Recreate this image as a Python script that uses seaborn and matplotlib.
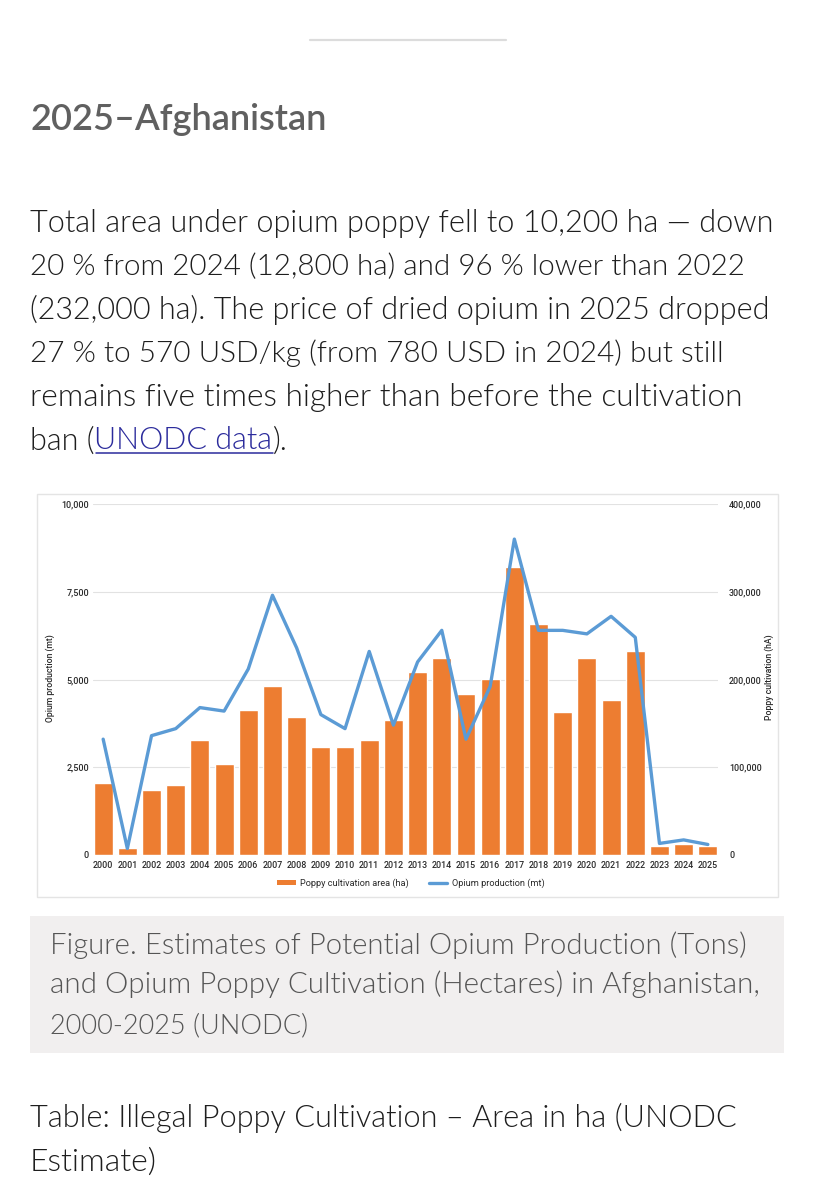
import numpy as np
import pandas as pd
import matplotlib
matplotlib.use("Agg")
import matplotlib.pyplot as plt
import seaborn as sns
from matplotlib.patches import Rectangle, Patch
from matplotlib.lines import Line2D
from matplotlib.ticker import FuncFormatter

# ---------------- data ----------------
years = [str(y) for y in range(2000, 2026)]
cultivation_ha = [82000, 7600, 74000, 80000, 131000, 104000, 165000, 193000,
                  157000, 123000, 123000, 131000, 154000, 209000, 224000,
                  183000, 201000, 328000, 263000, 163000, 224000, 177000,
                  233000, 10800, 12800, 10200]
production_mt = [3300, 185, 3400, 3600, 4200, 4100, 5300, 7400, 5900, 4000,
                 3600, 5800, 3700, 5500, 6400, 3300, 4800, 9000, 6400, 6400,
                 6300, 6800, 6200, 330, 430, 300]
left_ticks = [0, 2500, 5000, 7500, 10000]
right_ticks = [0, 100000, 200000, 300000, 400000]

heading = "2025–Afghanistan"
body_lines = [
    "Total area under opium poppy fell to 10,200 ha — down",
    "20 % from 2024 (12,800 ha) and 96 % lower than 2022",
    "(232,000 ha). The price of dried opium in 2025 dropped",
    "27 % to 570 USD/kg (from 780 USD in 2024) but still",
    "remains five times higher than before the cultivation",
]
last_parts = [("ban (", "#1e1e1e"), ("UNODC data", "#2b2b9c"), (").", "#1e1e1e")]
caption_lines = [
    "Figure. Estimates of Potential Opium Production (Tons)",
    "and Opium Poppy Cultivation (Hectares) in Afghanistan,",
    "2000-2025 (UNODC)",
]
table_lines = ["Table: Illegal Poppy Cultivation – Area in ha (UNODC", "Estimate)"]

ORANGE = "#ed7d31"
BLUE = "#5b9bd5"
TXT = "#1e1e1e"
TICK = "#2a2a2a"
BODY_W = 300

# ---------------- figure ----------------
sns.set_theme(style="white")
plt.rcParams["font.family"] = ["Lato", "DejaVu Sans"]

W, H = 814, 1200
def fx(x): return x / W
def fy(y): return 1 - y / H

fig = plt.figure(figsize=(W / 100, H / 100), dpi=100, facecolor="white")
renderer = fig.canvas.get_renderer()

def fit_text(x, y, s, target_w, **kw):
    t = fig.text(fx(x), fy(y), s, fontsize=20, ha="left", va="baseline", **kw)
    w = t.get_window_extent(renderer).width
    t.set_fontsize(20 * target_w / w)
    return t

# separator line
fig.add_artist(Line2D([fx(310), fx(506)], [fy(40), fy(40)], color="#dcdcdc", lw=1.6))

# heading
fit_text(30, 130, heading, 296, color="#606060", fontweight=600)

# body
body_widths = [745, 715, 741, 692, 713]
for i, (s, w) in enumerate(zip(body_lines, body_widths)):
    fit_text(30, 232 + 43.5 * i, s, w, color=TXT, fontweight=BODY_W)

# last body line with link
full = "".join(p for p, _ in last_parts)
t = fig.text(0, 0, full, fontsize=20, fontweight=BODY_W)
fw = t.get_window_extent(renderer).width
t.remove()
fs = 20 * 258 / fw
xcur = 30
yb = 232 + 43.5 * 5
for s, c in last_parts:
    tt = fig.text(fx(xcur), fy(yb), s, fontsize=fs, color=c, ha="left",
                  va="baseline", fontweight=BODY_W)
    wpx = tt.get_window_extent(renderer).width
    if s == "UNODC data":
        fig.add_artist(Line2D([fx(xcur + 1), fx(xcur + wpx)], [fy(yb + 3), fy(yb + 3)],
                              color=c, lw=1.1))
    xcur += wpx

# chart frame
fig.add_artist(Rectangle((fx(37), fy(897)), (778 - 37) / W, (897 - 494) / H,
                         transform=fig.transFigure, facecolor="white",
                         edgecolor="#e4e4e4", lw=1.0, zorder=0))

# axes: bars on primary (right scale), line on twin (left scale)
ax = fig.add_axes([fx(93), fy(855), (718 - 93) / W, (855 - 504) / H])
ax.set_facecolor("none")
df = pd.DataFrame({"year": years, "area": cultivation_ha, "prod": production_mt})
sns.barplot(data=df, x="year", y="area", color=ORANGE, saturation=1,
            width=0.78, ax=ax, zorder=2)
ax.set_ylim(0, 400000)
ax.set_yticks(right_ticks)
ax.yaxis.set_major_formatter(FuncFormatter(lambda v, p: f"{v:,.0f}"))
ax.set_axisbelow(True)
ax.grid(axis="y", color="#e2e2e2", lw=0.8, zorder=0)
ax.grid(axis="x", visible=False)
ax.set_xlabel("")
ax.set_ylabel("")

ax2 = ax.twinx()
sns.lineplot(x=np.arange(len(years)), y=df["prod"].values, color=BLUE,
             lw=2.4, ax=ax2)
ax2.set_ylim(0, 10000)
ax2.set_yticks(left_ticks)
ax2.yaxis.set_major_formatter(FuncFormatter(lambda v, p: f"{v:,.0f}"))
ax2.set_ylabel("")
ax2.grid(False)
ax.set_xlim(-0.42, 25.42)
# swap sides: cultivation scale on the right, production on the left
ax.yaxis.tick_right()
ax2.yaxis.tick_left()

for a in (ax, ax2):
    for sp in a.spines.values():
        sp.set_visible(False)

ax.tick_params(axis="x", length=0, pad=4, labelsize=6.4, labelcolor=TICK)
ax.tick_params(axis="y", length=0, pad=8, labelsize=6.4, labelcolor=TICK)
ax2.tick_params(axis="y", length=0, pad=3, labelsize=6.5, labelcolor=TICK)
for lab in ax.get_xticklabels() + ax.get_yticklabels() + ax2.get_yticklabels():
    lab.set_fontfamily(["Roboto", "DejaVu Sans"])
    lab.set_fontweight("medium")

# axis titles
fig.text(fx(50), fy(678), "Opium production (mt)", rotation=90, ha="center",
         va="center", fontsize=6.2, color=TICK,
         family=["Roboto", "DejaVu Sans"], fontweight="medium")
fig.text(fx(769), fy(677), "Poppy cultivation (hA)", rotation=90, ha="center",
         va="center", fontsize=6.2, color=TICK,
         family=["Roboto", "DejaVu Sans"], fontweight="medium")

# legend
handles = [Patch(facecolor=ORANGE, edgecolor="none"),
           Line2D([0], [0], color=BLUE, lw=2.4)]
fig.legend(handles, ["Poppy cultivation area (ha)", "Opium production (mt)"],
           loc="center", bbox_to_anchor=(fx(411), fy(883)), ncol=2,
           frameon=False, prop=dict(family=["Roboto", "DejaVu Sans"], size=6.6),
           labelcolor=TICK, handlelength=2.0, handleheight=0.45,
           handletextpad=0.5, columnspacing=2.2)

# caption box
fig.add_artist(Rectangle((fx(30), fy(1053)), (784 - 30) / W, (1053 - 916) / H,
                         transform=fig.transFigure, facecolor="#f1efef",
                         edgecolor="none", zorder=0))
cap_widths = [697, 709, 258]
for i, (s, w) in enumerate(zip(caption_lines, cap_widths)):
    fit_text(50, 954 + 39.5 * i, s, w, color="#555555", fontweight=BODY_W)

# table heading
tab_widths = [706, 127]
for i, (s, w) in enumerate(zip(table_lines, tab_widths)):
    fit_text(30, 1127 + 43.5 * i, s, w, color=TXT, fontweight=BODY_W)

fig.savefig("out.png", dpi=100, facecolor="white")
